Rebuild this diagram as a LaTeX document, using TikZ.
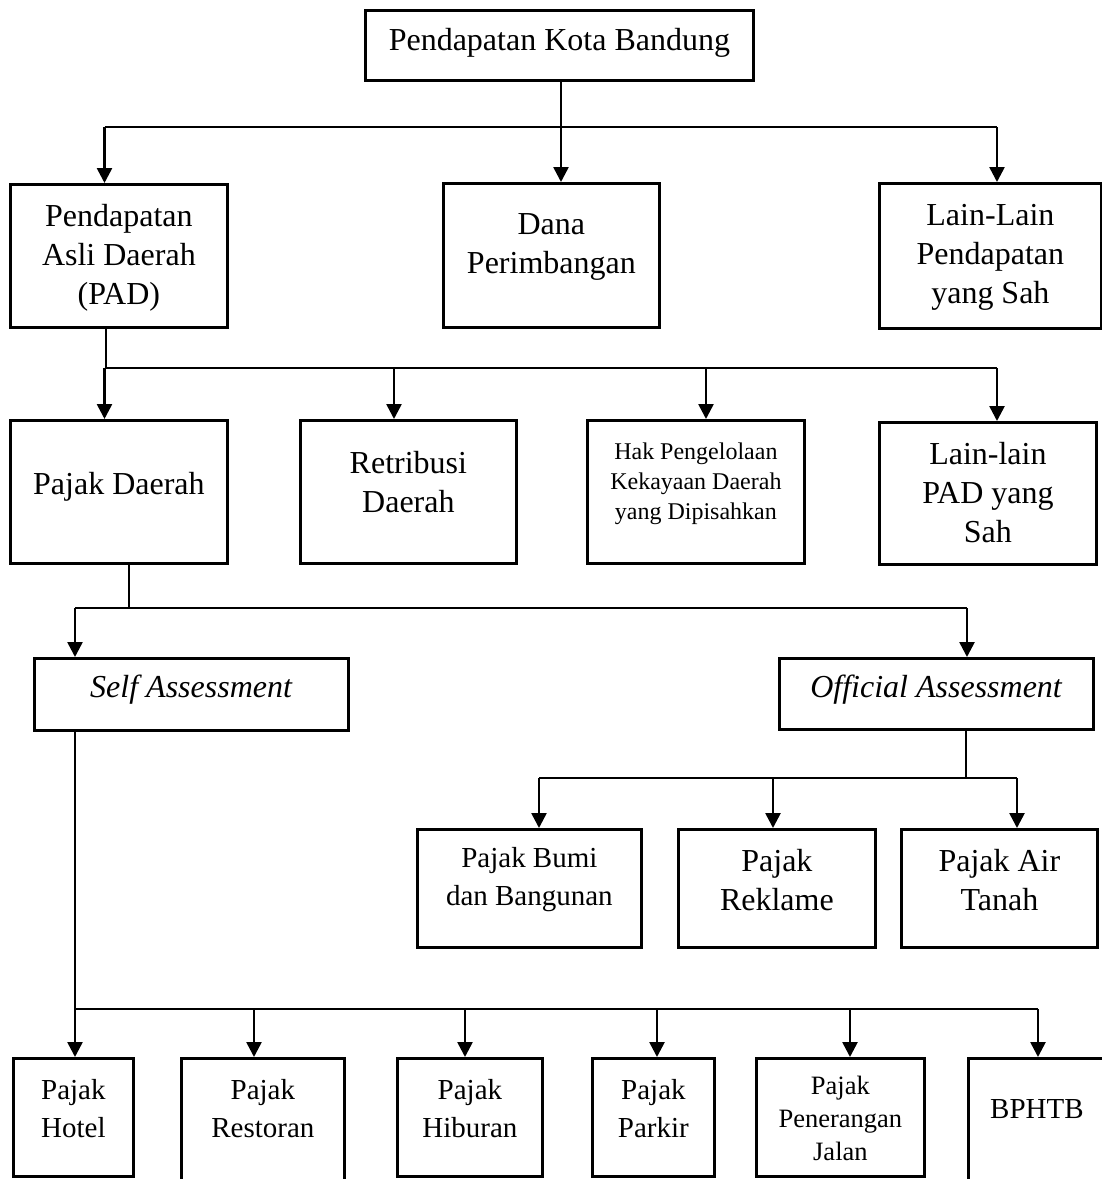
\documentclass[tikz,border=0pt]{standalone}
\usepackage{fontspec}
\setmainfont{Liberation Serif}
\usetikzlibrary{arrows.meta}
\tikzset{
  box/.style={draw, rectangle, line width=2.8pt, inner sep=0pt, anchor=north west},
  lab/.style={align=center, inner sep=0pt, text=black},
  fbig/.style={font=\fontsize{32}{39}\selectfont},
  fmid/.style={font=\fontsize{29}{38}\selectfont},
  fsmall/.style={font=\fontsize{24}{30}\selectfont},
  fpen/.style={font=\fontsize{26.5}{33}\selectfont},
  bus/.style={line width=1.3pt},
  arr/.style={line width=2.6pt, -{Triangle[length=15pt,width=15pt]}},
}
\begin{document}
\begin{tikzpicture}[x=1pt,y=-1pt]
\path[use as bounding box, fill=white] (0,0) rectangle (1102,1179);
\clip (0,0) rectangle (1102,1179);

% level 0
\node[box, minimum width=388pt, minimum height=70pt, label={[lab,fbig,yshift=2.5pt]center:Pendapatan Kota Bandung}] (top) at (364,9) {};

% level 1
\node[box, minimum width=217pt, minimum height=143pt, label={[lab,fbig,yshift=-1.5pt]center:Pendapatan\\Asli Daerah\\(PAD)}] (pad) at (9,183) {};
\node[box, minimum width=216pt, minimum height=144pt, label={[lab,fbig,yshift=8pt]center:Dana\\Perimbangan}] (dana) at (442,182) {};
\node[box, minimum width=222pt, minimum height=145pt, label={[lab,fbig,yshift=-1pt]center:Lain-Lain\\Pendapatan\\yang Sah}] (lain) at (878,182) {};

% level 2
\node[box, minimum width=217pt, minimum height=143pt, label={[lab,fbig,yshift=5.5pt]center:Pajak Daerah}] (pd) at (9,419) {};
\node[box, minimum width=216pt, minimum height=143pt, label={[lab,fbig,yshift=9.5pt]center:Retribusi\\Daerah}] (ret) at (299,419) {};
\node[box, minimum width=217pt, minimum height=143pt, label={[lab,fsmall,yshift=8.5pt]center:Hak Pengelolaan\\Kekayaan Daerah\\yang Dipisahkan}] (hak) at (586,419) {};
\node[box, minimum width=217pt, minimum height=142pt, label={[lab,fbig,yshift=1pt]center:Lain-lain\\PAD yang\\Sah}] (lpad) at (878,421) {};

% level 3
\node[box, minimum width=314pt, minimum height=72pt, label={[lab,fbig,yshift=4.5pt]center:\textit{Self Assessment}}] (self) at (33,657) {};
\node[box, minimum width=314pt, minimum height=71pt, label={[lab,fbig,yshift=4pt]center:\textit{Official Assessment}}] (off) at (778,657) {};

% official children
\node[box, minimum width=224pt, minimum height=118pt, label={[lab,fmid,yshift=9pt]center:Pajak Bumi\\dan Bangunan}] (bumi) at (416,828) {};
\node[box, minimum width=197pt, minimum height=118pt, label={[lab,fbig,yshift=8pt]center:Pajak\\Reklame}] (rek) at (677,828) {};
\node[box, minimum width=196pt, minimum height=118pt, label={[lab,fbig,yshift=8pt]center:Pajak Air\\Tanah}] (air) at (900,828) {};

% self children
\node[box, minimum width=120pt, minimum height=118pt, label={[lab,fmid,yshift=9pt]center:Pajak\\Hotel}] (hotel) at (12,1057) {};
\node[box, minimum width=163pt, minimum height=123pt, label={[lab,fmid,yshift=11.5pt]center:Pajak\\Restoran}] (resto) at (180,1057) {};
\node[box, minimum width=145pt, minimum height=118pt, label={[lab,fmid,yshift=9pt]center:Pajak\\Hiburan}] (hib) at (396,1057) {};
\node[box, minimum width=122pt, minimum height=118pt, label={[lab,fmid,yshift=9pt]center:Pajak\\Parkir}] (park) at (591,1057) {};
\node[box, minimum width=168pt, minimum height=118pt, label={[lab,fpen,yshift=-1.5pt]center:Pajak\\Penerangan\\Jalan}] (pen) at (755,1057) {};
\node[box, minimum width=137pt, minimum height=123pt, label={[lab,fmid,yshift=10.5pt]center:BPHTB}] (bphtb) at (967,1057) {};

% connectors: level 0 -> 1
\coordinate (j0) at (561,127);
\coordinate (j0l) at (104.5,127);
\coordinate (j0r) at (997,127);
\draw[bus] (j0 |- top.south) -- (j0);
\draw[bus] (j0l) -- (j0r);
\draw[arr] (j0l) -- (j0l |- pad.north);
\draw[arr] (j0) -- (j0 |- dana.north);
\draw[arr] (j0r) -- (j0r |- lain.north);

% PAD -> level 2
\coordinate (j1) at (106,368);
\coordinate (j1a) at (104.5,368);
\coordinate (j1b) at (394,368);
\coordinate (j1c) at (706,368);
\coordinate (j1d) at (997,368);
\draw[bus] (j1 |- pad.south) -- (j1);
\draw[bus] (j1a) -- (j1d);
\draw[arr] (j1a) -- (j1a |- pd.north);
\draw[arr] (j1b) -- (j1b |- ret.north);
\draw[arr] (j1c) -- (j1c |- hak.north);
\draw[arr] (j1d) -- (j1d |- lpad.north);

% Pajak Daerah -> assessments
\coordinate (j2) at (129,608);
\coordinate (j2a) at (75,608);
\coordinate (j2b) at (967,608);
\draw[bus] (j2 |- pd.south) -- (j2);
\draw[bus] (j2a) -- (j2b);
\draw[arr] (j2a) -- (j2a |- self.north);
\draw[arr] (j2b) -- (j2b |- off.north);

% Official -> children
\coordinate (j3) at (966,778);
\coordinate (j3a) at (539,778);
\coordinate (j3b) at (773,778);
\coordinate (j3c) at (1017,778);
\draw[bus] (j3 |- off.south) -- (j3);
\draw[bus] (j3a) -- (j3c);
\draw[arr] (j3a) -- (j3a |- bumi.north);
\draw[arr] (j3b) -- (j3b |- rek.north);
\draw[arr] (j3c) -- (j3c |- air.north);

% Self -> children
\coordinate (j4) at (75,1009);
\coordinate (j4b) at (254,1009);
\coordinate (j4c) at (465,1009);
\coordinate (j4d) at (657,1009);
\coordinate (j4e) at (850,1009);
\coordinate (j4f) at (1038,1009);
\draw[bus] (j4 |- self.south) -- (j4);
\draw[bus] (j4) -- (j4f);
\draw[arr] (j4) -- (j4 |- hotel.north);
\draw[arr] (j4b) -- (j4b |- resto.north);
\draw[arr] (j4c) -- (j4c |- hib.north);
\draw[arr] (j4d) -- (j4d |- park.north);
\draw[arr] (j4e) -- (j4e |- pen.north);
\draw[arr] (j4f) -- (j4f |- bphtb.north);
\end{tikzpicture}
\end{document}
